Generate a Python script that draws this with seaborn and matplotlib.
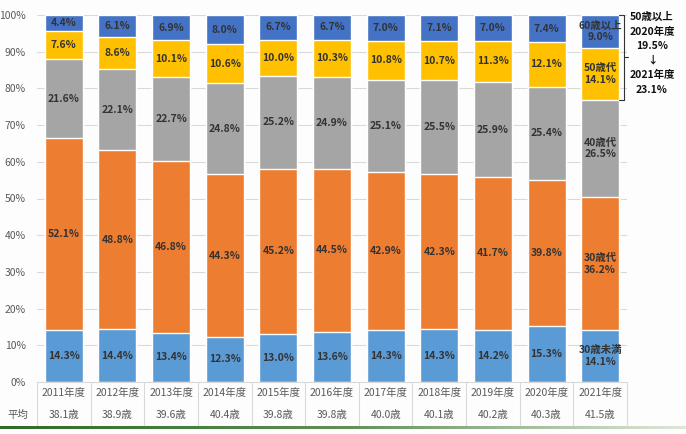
import numpy as np
import pandas as pd
import matplotlib
matplotlib.use('Agg')
import matplotlib.pyplot as plt
import seaborn as sns

years = ['2011年度', '2012年度', '2013年度', '2014年度', '2015年度', '2016年度',
         '2017年度', '2018年度', '2019年度', '2020年度', '2021年度']
avg_age = ['38.1歳', '38.9歳', '39.6歳', '40.4歳', '39.8歳', '39.8歳',
           '40.0歳', '40.1歳', '40.2歳', '40.3歳', '41.5歳']
under30 = [14.3, 14.4, 13.4, 12.3, 13.0, 13.6, 14.3, 14.3, 14.2, 15.3, 14.1]
age30s = [52.1, 48.8, 46.8, 44.3, 45.2, 44.5, 42.9, 42.3, 41.7, 39.8, 36.2]
age40s = [21.6, 22.1, 22.7, 24.8, 25.2, 24.9, 25.1, 25.5, 25.9, 25.4, 26.5]
age50s = [7.6, 8.6, 10.1, 10.6, 10.0, 10.3, 10.8, 10.7, 11.3, 12.1, 14.1]
age60p = [4.4, 6.1, 6.9, 8.0, 6.7, 6.7, 7.0, 7.1, 7.0, 7.4, 9.0]
last_names = ['30歳未満', '30歳代', '40歳代', '50歳代', '60歳以上']
note = ['50歳以上', '2020年度', '19.5%', '↓', '2021年度', '23.1%']

sns.set_style('white')
plt.rcParams['font.family'] = ['Noto Sans CJK JP', 'DejaVu Sans']

series = [under30, age30s, age40s, age50s, age60p]
colors = ['#5B9BD5', '#ED7D31', '#A5A5A5', '#FFC000', '#4472C4']
df = pd.DataFrame({'year': years})
cum = np.cumsum(np.array(series), axis=0)
# scale so every bar tops out at 100%
cum = cum / cum[-1] * 100

fig = plt.figure(figsize=(6.86, 4.34), dpi=100)
fig.patch.set_facecolor('#fdfdfd')
ax = fig.add_axes([37/686, 52/434, 590/686, 367/434])
ax.set_facecolor('#fdfdfd')

# overlay cumulative bars, tallest first
for i in range(4, -1, -1):
    df['v'] = cum[i]
    sns.barplot(data=df, x='year', y='v', color=colors[i], saturation=1,
                width=0.71, ax=ax, zorder=2)

ax.set_xlim(-0.5, 10.5)
ax.set_ylim(0, 100)
ax.set_yticks(range(0, 101, 10))
ax.set_yticklabels([f'{t}%' for t in range(0, 101, 10)], color='#595959', fontsize=7.5)
ax.yaxis.grid(True, color='#d9d9d9', linewidth=0.8, zorder=0)
ax.set_axisbelow(True)
ax.set_xticks([])
ax.set_xlabel('')
ax.set_ylabel('')
ax.tick_params(axis='y', length=0, pad=8)
for s in ['top', 'right', 'left']:
    ax.spines[s].set_visible(False)
ax.spines['bottom'].set_color('#d9d9d9')

# segment labels
for j in range(len(years)):
    for i in range(5):
        lo = 0 if i == 0 else cum[i - 1][j]
        mid = (lo + cum[i][j]) / 2
        val = f'{series[i][j]:.1f}%'
        if j == len(years) - 1:
            val = last_names[i] + '\n' + val
        ax.text(j, mid, val, ha='center', va='center', fontsize=7.5,
                fontweight='bold', color='#333333', linespacing=1.2, zorder=5)

# table below chart
tr = ax.get_xaxis_transform()
for j in range(len(years)):
    ax.text(j, -0.031, years[j], transform=tr, ha='center', va='center',
            fontsize=7.5, color='#595959', clip_on=False)
    ax.text(j, -0.091, avg_age[j], transform=tr, ha='center', va='center',
            fontsize=7.5, color='#595959', clip_on=False)
for k in range(12):
    ax.plot([k - 0.5, k - 0.5], [0, -0.118], transform=tr, color='#d9d9d9',
            linewidth=0.8, clip_on=False)
fig.text(18/686, 1 - 415/434, '平均', ha='center', va='center', fontsize=7.5,
         color='#595959')

# bracket for 50+ share
top, bot, midy = 100, cum[2][-1], (100 + cum[2][-1]) / 2
bx = 10.45
ax.plot([10.36, bx, bx, 10.36], [top, top, bot, bot], color='#333333',
        linewidth=0.8, clip_on=False)
ax.plot([bx, 10.52], [midy, midy], color='#333333', linewidth=0.8, clip_on=False)
for k, t in enumerate(note):
    fig.text(652/686, 1 - (17 + k * 14.6)/434, t, ha='center', va='center',
             fontsize=7.5, fontweight='bold', color='#111111')

# green gradient line at bottom
gax = fig.add_axes([0, 5/434, 1, 3/434])
grad = np.linspace(0, 1, 256).reshape(1, -1)
cmap = matplotlib.colors.LinearSegmentedColormap.from_list('g', ['#2f6b2a', '#5f8f55', '#dfe8da'])
gax.imshow(grad, aspect='auto', cmap=cmap)
gax.axis('off')

fig.savefig('out.png', dpi=100, facecolor=fig.get_facecolor())
